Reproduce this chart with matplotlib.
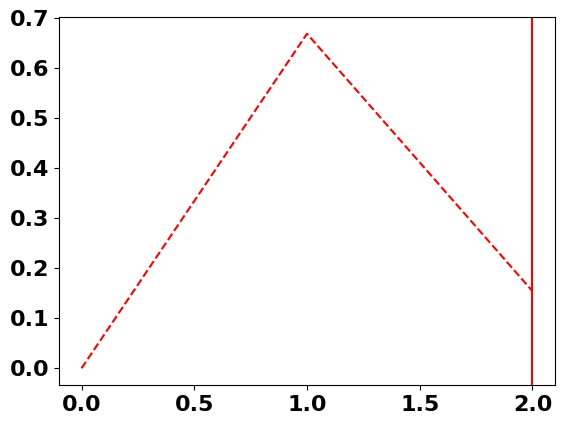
import matplotlib.pyplot as plt

# data
x_vals = [0.0, 1.0, 2.0]
y_vals = [0.0, 0.668, 0.154]
vline_x = 2.0

fig = plt.figure(figsize=(5.65, 4.29), dpi=100)
ax = fig.add_axes([59 / 565, 44 / 429, 496 / 565, 368 / 429])

ax.plot(x_vals, y_vals, ls='--', c='red')
ax.axvline(vline_x, c='red')

ax.tick_params(labelsize=16)
for label in ax.get_xticklabels() + ax.get_yticklabels():
    label.set_fontweight('bold')

plt.savefig('out.png', dpi=100)
